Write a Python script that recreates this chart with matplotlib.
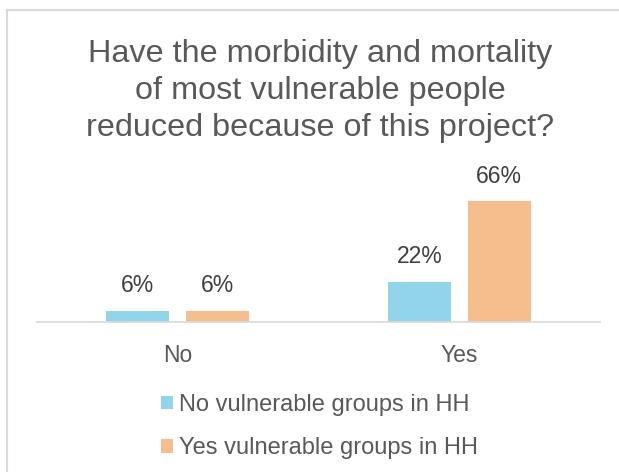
import matplotlib.pyplot as plt
import numpy as np
from matplotlib.lines import Line2D

plt.rcParams['font.family'] = ['Liberation Sans', 'DejaVu Sans']

categories = ['No', 'Yes']
series_names = ['No vulnerable groups in HH', 'Yes vulnerable groups in HH']
no_vuln = [6, 22]
yes_vuln = [6, 66]
colors = ['#92D4EA', '#F5BE8C']
title = 'Have the morbidity and mortality\nof most vulnerable people\nreduced because of this project?'

fig = plt.figure(figsize=(6.19, 4.72), dpi=100)
# chart border, only left and top show in the crop
bx, by = 7/619, 1 - 10/472
fig.add_artist(Line2D([bx, bx], [0, by], transform=fig.transFigure, color='#D9D9D9', lw=1.5))
fig.add_artist(Line2D([bx, 1], [by, by], transform=fig.transFigure, color='#D9D9D9', lw=1.5))

ax = fig.add_axes([37/619, (472-322)/472, 563/619, 137/472])
x = np.arange(len(categories))
w = 0.224
off = 0.142
b1 = ax.bar(x - off, no_vuln, w, color=colors[0], label=series_names[0])
b2 = ax.bar(x + off, yes_vuln, w, color=colors[1], label=series_names[1])
for bars, vals in [(b1, no_vuln), (b2, yes_vuln)]:
    for b, v in zip(bars, vals):
        ax.annotate(f'{v}%', (b.get_x() + b.get_width()/2, v), xytext=(0, 18.2),
                    textcoords='offset points', ha='center', va='center',
                    fontsize=16.5, color='#404040')

ax.set_xlim(-0.5, 1.5)
ax.set_ylim(0, 75)
ax.set_yticks([])
ax.set_xticks(x)
ax.set_xticklabels(categories, fontsize=16.5, color='#595959')
ax.tick_params(axis='x', length=0, pad=15.5)
for s in ['top', 'right', 'left']:
    ax.spines[s].set_visible(False)
ax.spines['bottom'].set_color('#D9D9D9')
ax.spines['bottom'].set_linewidth(1.2)

fig.text(320/619, 1 - 91/472, title, ha='center', va='center', fontsize=23.3,
         color='#595959', linespacing=1.3)

leg = fig.legend(handles=[b1, b2], labels=series_names, loc='upper left',
                 bbox_to_anchor=(161/619, 1 - 394/472), frameon=False, fontsize=17,
                 borderpad=0, borderaxespad=0,
                 handlelength=0.5, handleheight=0.5, handletextpad=0.25, labelspacing=0.9)
for t in leg.get_texts():
    t.set_color('#595959')

fig.savefig('out.png', dpi=100)
